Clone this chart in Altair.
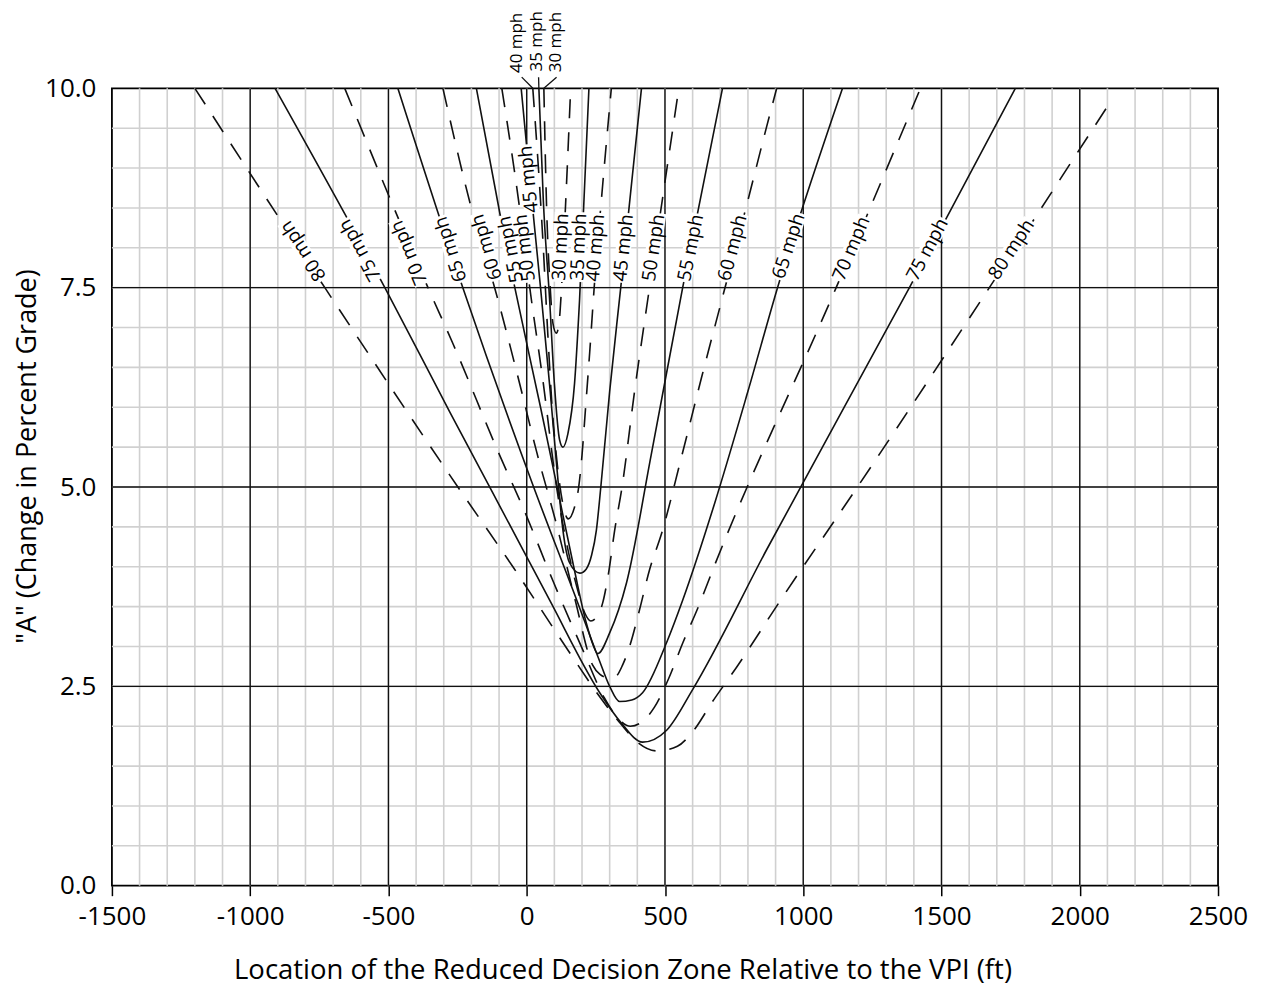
import math
import altair as alt
import pandas as pd

# ---------------- data ----------------
speeds = [30, 35, 40, 45, 50, 55, 60, 65, 70, 75, 80]
dashed_speeds = [30, 40, 50, 60, 70, 80]

x_30 = [62, 72, 85, 95, 107, 116, 126, 140, 159]
y_30 = [10.0, 8.5, 7.5, 7.05, 6.93, 7.03, 7.5, 8.5, 10.0]

x_35 = [44, 60, 83, 100, 119, 131, 149, 173, 191, 225]
y_35 = [10.0, 8.6, 7.34, 6.3, 5.59, 5.50, 5.67, 6.30, 7.34, 10.0]

x_40 = [22, 60, 75, 92, 110, 130, 150, 173, 188, 200, 213, 228, 244, 275, 306]
y_40 = [10.0, 8.0, 7.0, 6.0, 5.3, 4.8, 4.6, 4.75, 5.0, 5.4, 6.0, 6.7, 7.5, 8.8, 10.0]

x_45 = [-20, 10, 50, 85, 113, 131, 155, 192, 215, 235, 252, 268, 300, 340, 415]
y_45 = [10.0, 8.9, 7.5, 6.2, 5.09, 4.46, 4.05, 3.92, 3.97, 4.15, 4.46, 5.0, 6.2, 7.5, 10.0]

x_50 = [-90, -25, 11, 60, 108, 150, 185, 210, 232, 255, 275, 295, 320, 343, 390, 444, 550]
y_50 = [10.0, 8.48, 7.5, 6.3, 5.0, 4.2, 3.7, 3.42, 3.32, 3.38, 3.55, 3.9, 4.5, 4.96, 6.2, 7.5, 10.0]

x_55 = [-182, -97, -43, 50, 110, 170, 215, 240, 257, 300, 361, 450, 564, 708]
y_55 = [10.0, 8.43, 7.5, 6.0, 5.0, 4.0, 3.3, 3.02, 2.91, 3.17, 3.8, 5.4, 7.5, 10.0]

x_60 = [-303, -195, -116, -33, 36, 110, 174, 238, 265, 293, 320, 347, 372, 408, 444,
        488, 560, 632, 705, 795, 867, 904]
y_60 = [10.0, 8.43, 7.5, 6.40, 5.44, 4.5, 3.6, 2.77, 2.65, 2.61, 2.62, 2.77, 3.0, 3.46, 3.96,
        4.42, 5.38, 6.37, 7.34, 8.53, 9.51, 10.0]

x_65 = [-466, -231, 25, 181, 260, 300, 336, 380, 419, 506, 564, 680, 800, 907, 1142]
y_65 = [10.0, 7.5, 5.0, 3.58, 2.85, 2.50, 2.31, 2.33, 2.42, 3.05, 3.58, 4.80, 6.20, 7.5, 10.0]

x_70 = [-658, -357, -267, -98, -7, 94, 200, 280, 330, 375, 415, 462, 511, 565, 621, 675, 1119, 1424]
y_70 = [10.0, 7.5, 6.8, 5.4, 4.69, 3.83, 2.98, 2.36, 2.10, 2.00, 2.05, 2.24, 2.58, 3.05, 3.50, 3.98, 7.5, 10.0]

x_75 = [-910, -513, -278, -13, 83, 264, 340, 419, 506, 600, 867, 1384, 1767]
y_75 = [10.0, 7.5, 5.94, 4.21, 3.58, 2.42, 2.05, 1.80, 1.95, 2.46, 4.21, 7.5, 10.0]

x_80 = [-1200, -730, -249, -50, 150, 264, 340, 400, 470, 545, 600, 672, 759, 914, 1196, 1673, 2107]
y_80 = [10.0, 7.5, 5.0, 4.0, 2.95, 2.37, 2.03, 1.80, 1.69, 1.75, 1.93, 2.31, 2.74, 3.56, 5.0, 7.5, 9.81]

# curve labels (centre positions)
left_label_speed = [80, 75, 70, 65, 60, 55, 50, 45]
left_label_x = [-809, -603, -426, -275, -145, -58, -7, 7]
left_label_y = [7.96, 7.97, 7.94, 7.98, 8.01, 7.98, 8.0, 8.86]

right_label_speed = [30, 35, 40, 45, 50, 55, 60, 65, 70, 75, 80]
right_label_x = [123, 188, 249, 350, 459, 593, 744, 947, 1174, 1449, 1753]
right_label_y = [8.01, 8.01, 8.0, 8.0, 8.0, 8.0, 8.0, 8.02, 7.99, 7.98, 7.98]

top_label_speed = [40, 35, 30]
top_label_x = [-36, 36, 105]
top_label_y = [10.57, 10.59, 10.58]
leader_x = [-18, 43, 108]
leader_x2 = [22, 44, 62]
leader_y = [10.14, 10.14, 10.14]
leader_y2 = [10.0, 10.0, 10.0]

x_ticks = [-1500, -1000, -500, 0, 500, 1000, 1500, 2000, 2500]
y_ticks = [0.0, 2.5, 5.0, 7.5, 10.0]
minor_x = list(range(-1400, 2500, 100))
minor_y = [0.5 * i for i in range(1, 20)]
major_x = [-1000, -500, 0, 500, 1000, 1500, 2000]
major_y = [2.5, 5.0, 7.5]

# ---------------- layout ----------------
W, H = 1107, 798
X_DOM = [-1500, 2500]
Y_DOM = [0, 10]
SX = W / (X_DOM[1] - X_DOM[0])
SY = H / (Y_DOM[1] - Y_DOM[0])
FONT = "Open Sans"
INK = "#111111"

curve_x = {30: x_30, 35: x_35, 40: x_40, 45: x_45, 50: x_50, 55: x_55,
           60: x_60, 65: x_65, 70: x_70, 75: x_75, 80: x_80}
curve_y = {30: y_30, 35: y_35, 40: y_40, 45: y_45, 50: y_50, 55: y_55,
           60: y_60, 65: y_65, 70: y_70, 75: y_75, 80: y_80}

rows = []
for s in speeds:
    for i, (xv, yv) in enumerate(zip(curve_x[s], curve_y[s])):
        rows.append({"speed": s, "x": xv, "y": yv, "i": i,
                     "style": "dashed" if s in dashed_speeds else "solid"})
curves = pd.DataFrame(rows)


def branch_angle(s, side, yl):
    xs_, ys_ = curve_x[s], curve_y[s]
    k = ys_.index(min(ys_))
    if side == "left":
        pts = list(zip(xs_[:k + 1], ys_[:k + 1]))
        seg = None
        for (x0, y0), (x1, y1) in zip(pts[:-1], pts[1:]):
            if y1 <= yl <= y0:
                seg = (x0, y0, x1, y1)
                break
        if seg is None:
            (x0, y0), (x1, y1) = pts[0], pts[1]
        else:
            x0, y0, x1, y1 = seg
        dx = (x0 - x1) * SX
        dy = -(y0 - y1) * SY
    else:
        pts = list(zip(xs_[k:], ys_[k:]))
        seg = None
        for (x0, y0), (x1, y1) in zip(pts[:-1], pts[1:]):
            if y0 <= yl <= y1:
                seg = (x0, y0, x1, y1)
                break
        if seg is None:
            (x0, y0), (x1, y1) = pts[-2], pts[-1]
        else:
            x0, y0, x1, y1 = seg
        dx = (x1 - x0) * SX
        dy = -(y1 - y0) * SY
    return math.degrees(math.atan2(dy, dx)) % 360


lab_rows = []
for s, xv, yv in zip(left_label_speed, left_label_x, left_label_y):
    lab_rows.append({"x": xv, "y": yv, "text": f"{s} mph", "angle": branch_angle(s, "left", yv)})
for s, xv, yv in zip(right_label_speed, right_label_x, right_label_y):
    lab_rows.append({"x": xv, "y": yv, "text": f"{s} mph", "angle": branch_angle(s, "right", yv)})
labels = pd.DataFrame(lab_rows)

top_labels = pd.DataFrame({"x": top_label_x, "y": top_label_y,
                           "text": [f"{s} mph" for s in top_label_speed],
                           "angle": [270] * len(top_label_x)})
leaders = pd.DataFrame({"x": leader_x, "x2": leader_x2, "y": leader_y, "y2": leader_y2})

xs = alt.Scale(domain=X_DOM, nice=False, zero=False)
ys = alt.Scale(domain=Y_DOM, nice=False, zero=False)

x_axis = alt.Axis(values=x_ticks, labelExpr="datum.value + ''", labelFont=FONT,
                  labelFontSize=26, labelColor="black", labelFlush=False,
                  tickSize=10, tickColor="black", tickWidth=1.5, domain=False,
                  grid=False, labelPadding=8,
                  title="Location of the Reduced Decision Zone Relative to the VPI (ft)",
                  titleFont=FONT, titleFontSize=27.5, titleFontWeight="normal",
                  titleColor="black", titleX=511, titleY=85, titleBaseline="middle",
                  titleAlign="center", titleAnchor="start")
y_axis = alt.Axis(values=y_ticks, format=".1f", labelFont=FONT, labelFontSize=26,
                  labelColor="black", ticks=False, domain=False, grid=False,
                  labelPadding=16, labelFlush=False,
                  title='"A" (Change in Percent Grade)', titleFont=FONT,
                  titleFontSize=27, titleFontWeight="normal", titleColor="black",
                  titleAngle=270, titleX=-84, titleY=368, titleBaseline="middle",
                  titleAlign="center", titleAnchor="start")


def X(field):
    return alt.X(field, scale=xs, axis=x_axis)


def Y(field):
    return alt.Y(field, scale=ys, axis=y_axis)


minor_v = alt.Chart(pd.DataFrame({"v": minor_x})).mark_rule(
    color="#d0d0d0", strokeWidth=1.6).encode(x=X("v:Q"))
minor_h = alt.Chart(pd.DataFrame({"v": minor_y})).mark_rule(
    color="#d0d0d0", strokeWidth=1.6).encode(y=Y("v:Q"))
major_v = alt.Chart(pd.DataFrame({"v": major_x})).mark_rule(
    color=INK, strokeWidth=1.4).encode(x=X("v:Q"))
major_h = alt.Chart(pd.DataFrame({"v": major_y})).mark_rule(
    color=INK, strokeWidth=1.4).encode(y=Y("v:Q"))

solid = alt.Chart(curves[curves["style"] == "solid"]).mark_line(
    color=INK, strokeWidth=1.6, interpolate="monotone").encode(
    x=X("x:Q"), y=Y("y:Q"), detail="speed:N", order="i:Q")
dashed = alt.Chart(curves[curves["style"] == "dashed"]).mark_line(
    color=INK, strokeWidth=1.6, strokeDash=[19, 14], interpolate="monotone").encode(
    x=X("x:Q"), y=Y("y:Q"), detail="speed:N", order="i:Q")

RECT = "M-1,-0.22L1,-0.22L1,0.22L-1,0.22Z"
boxes = alt.Chart(labels).mark_point(shape=RECT, filled=True, fill="white",
                                     opacity=1, strokeWidth=0, size=4900).encode(
    x=X("x:Q"), y=Y("y:Q"), angle=alt.Angle("angle:Q", scale=None))
texts = alt.Chart(labels).mark_text(font=FONT, fontSize=19, align="center",
                                    baseline="middle", color="black").encode(
    x=X("x:Q"), y=Y("y:Q"), text="text:N",
    angle=alt.Angle("angle:Q", scale=None))
top_texts = alt.Chart(top_labels).mark_text(font=FONT, fontSize=17, align="center",
                                            baseline="middle", color="black").encode(
    x=X("x:Q"), y=Y("y:Q"), text="text:N",
    angle=alt.Angle("angle:Q", scale=None))
leader_rules = alt.Chart(leaders).mark_rule(color=INK, strokeWidth=1.3).encode(
    x=X("x:Q"), x2="x2:Q", y=Y("y:Q"), y2="y2:Q")

chart = alt.layer(
    minor_v, minor_h, major_v, major_h, solid, dashed, boxes, texts, top_texts, leader_rules
).properties(
    width=W, height=H,
    autosize=alt.AutoSizeParams(type="none"),
    padding={"left": 104, "top": 80, "right": 40, "bottom": 105},
    background="white",
).configure_view(stroke="black", strokeWidth=1.8)

chart.save("out.html", embed_options={"renderer": "svg", "actions": False})
